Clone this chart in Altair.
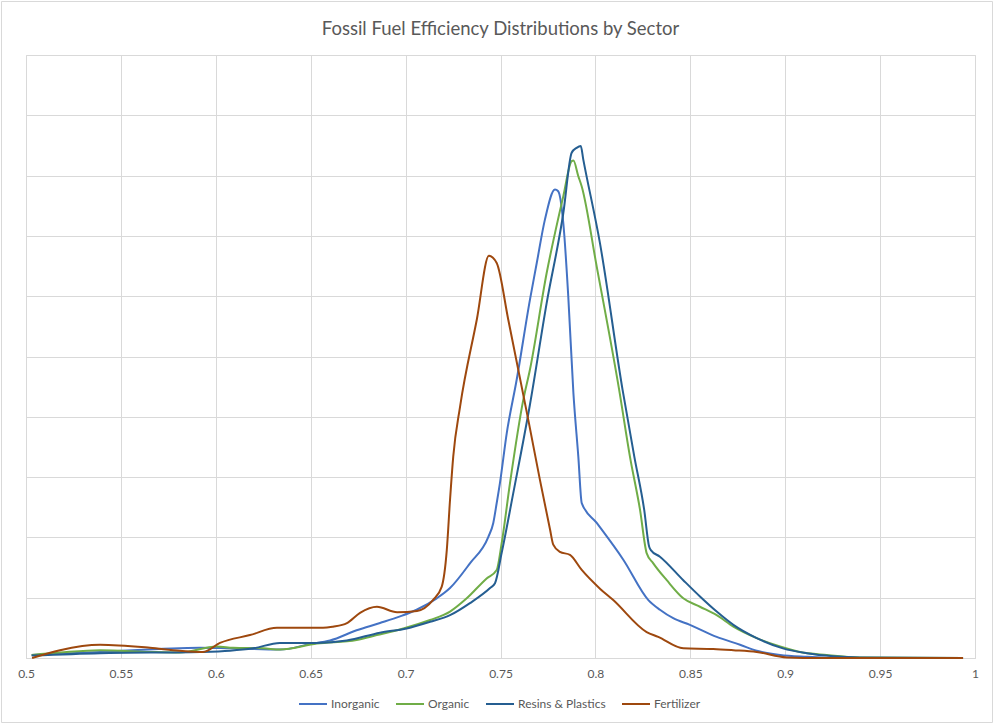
import altair as alt
import pandas as pd

# ---- data (x = efficiency, y = relative density, grid units) ----
inorganic_x = [0.503, 0.539, 0.5917, 0.6075, 0.6338, 0.6496, 0.6602, 0.6742, 0.6865, 0.6971,
               0.7058, 0.7164, 0.7234, 0.7339, 0.7436, 0.7462, 0.748, 0.7497, 0.7533, 0.7585,
               0.7655, 0.7691, 0.7734, 0.7787, 0.7804, 0.7831, 0.7857, 0.7884, 0.791, 0.7928,
               0.8007, 0.8147, 0.8279, 0.834, 0.841, 0.8498, 0.8639, 0.8762, 0.885, 0.8973,
               0.9113, 0.9289, 0.9937]
inorganic_y = [0.05, 0.10, 0.17, 0.16, 0.14, 0.23, 0.29, 0.46, 0.58, 0.69,
               0.80, 0.99, 1.16, 1.57, 2.01, 2.24, 2.57, 2.90, 3.73, 4.61,
               5.94, 6.55, 7.27, 7.77, 7.74, 7.21, 6.00, 4.40, 3.34, 2.57,
               2.24, 1.63, 0.96, 0.80, 0.66, 0.55, 0.35, 0.22, 0.12, 0.05,
               0.02, 0.0, 0.0]

organic_x = [0.503, 0.518, 0.539, 0.5653, 0.5811, 0.6005, 0.6091, 0.625, 0.6338, 0.6532,
             0.6742, 0.6848, 0.6988, 0.7129, 0.7234, 0.7322, 0.7427, 0.748, 0.7506, 0.755,
             0.762, 0.7655, 0.7743, 0.7831, 0.7875, 0.7884, 0.791, 0.7928, 0.8007, 0.8125,
             0.8182, 0.8235, 0.827, 0.8305, 0.8376, 0.8463, 0.8551, 0.8639, 0.8727, 0.885,
             0.8973, 0.9078, 0.9219, 0.9394, 0.9937]
organic_y = [0.05, 0.09, 0.13, 0.10, 0.09, 0.19, 0.17, 0.16, 0.14, 0.24,
             0.30, 0.38, 0.49, 0.63, 0.77, 0.99, 1.32, 1.46, 1.90, 2.90,
             4.28, 4.78, 6.38, 7.66, 8.24, 8.25, 7.99, 7.82, 6.49, 4.45,
             3.34, 2.46, 1.74, 1.57, 1.29, 0.99, 0.85, 0.71, 0.52, 0.33,
             0.19, 0.10, 0.05, 0.01, 0.0]

resins_x = [0.503, 0.539, 0.5917, 0.6075, 0.6196, 0.6338, 0.6532, 0.669, 0.6865, 0.7006,
            0.7129, 0.7234, 0.7339, 0.7445, 0.7471, 0.7506, 0.7567, 0.7655, 0.7743, 0.7831,
            0.7875, 0.7901, 0.7923, 0.7936, 0.8024, 0.8143, 0.8205, 0.8257, 0.8283, 0.8292,
            0.834, 0.8463, 0.8551, 0.8639, 0.8727, 0.885, 0.8988, 0.9113, 0.9254, 0.9394,
            0.9937]
resins_y = [0.04, 0.08, 0.10, 0.12, 0.16, 0.25, 0.25, 0.29, 0.42, 0.49,
            0.60, 0.71, 0.91, 1.16, 1.24, 1.74, 2.73, 4.20, 5.88, 7.38,
            8.38, 8.46, 8.49, 8.27, 6.88, 4.45, 3.34, 2.46, 1.85, 1.79,
            1.68, 1.29, 1.02, 0.77, 0.55, 0.33, 0.16, 0.08, 0.03, 0.01,
            0.0]

fertilizer_x = [0.5032, 0.5179, 0.539, 0.5653, 0.5811, 0.5933, 0.6022, 0.618, 0.6322, 0.6565,
                0.6617, 0.6691, 0.676, 0.6849, 0.6955, 0.706, 0.7144, 0.719, 0.7217, 0.7234,
                0.7251, 0.7287, 0.7375, 0.7439, 0.748, 0.7541, 0.7647, 0.7708, 0.7761, 0.7778,
                0.7813, 0.7866, 0.7928, 0.8024, 0.8094, 0.827, 0.8331, 0.8463, 0.8621, 0.8727,
                0.885, 0.9008, 0.918, 0.9937]
fertilizer_y = [0.0, 0.13, 0.22, 0.17, 0.12, 0.10, 0.25, 0.38, 0.50, 0.50,
                0.52, 0.58, 0.75, 0.85, 0.76, 0.78, 0.96, 1.18, 1.79, 2.62,
                3.34, 4.17, 5.61, 6.67, 6.55, 5.61, 3.94, 2.95, 2.13, 1.88,
                1.76, 1.71, 1.46, 1.15, 0.96, 0.43, 0.35, 0.16, 0.15, 0.13,
                0.10, 0.01, 0.0, 0.0]

sectors = ["Inorganic", "Organic", "Resins & Plastics", "Fertilizer"]
colors = ["#4472C4", "#70AD47", "#255E91", "#9E480E"]
x_ticks = [0.5, 0.55, 0.6, 0.65, 0.7, 0.75, 0.8, 0.85, 0.9, 0.95, 1.0]
y_grid = [0, 1, 2, 3, 4, 5, 6, 7, 8, 9, 10]

series = {
    "Inorganic": (inorganic_x, inorganic_y),
    "Organic": (organic_x, organic_y),
    "Resins & Plastics": (resins_x, resins_y),
    "Fertilizer": (fertilizer_x, fertilizer_y),
}
rows = []
for i, name in enumerate(sectors):
    xs, ys = series[name]
    for j, (xv, yv) in enumerate(zip(xs, ys)):
        rows.append({"sector": name, "order": i, "idx": j, "eff": xv, "dens": yv})
df = pd.DataFrame(rows)

FONT = "Lato"
GRID = "#d9d9d9"
TXT = "#595959"

lines = alt.Chart(df).mark_line(interpolate="monotone", strokeWidth=2).encode(
    x=alt.X("eff:Q",
            scale=alt.Scale(domain=[0.5, 1.0], nice=False, zero=False),
            axis=alt.Axis(values=x_ticks, format=".2~f", title=None, grid=True,
                          gridColor=GRID, domainColor=GRID, ticks=False,
                          labelColor=TXT, labelFontSize=12, labelFont=FONT,
                          labelPadding=10, labelOverlap=False, labelFlush=False)),
    y=alt.Y("dens:Q",
            scale=alt.Scale(domain=[0, 10], nice=False, zero=True),
            axis=alt.Axis(values=y_grid, title=None, labels=False, ticks=False,
                          domain=False, grid=True, gridColor=GRID)),
    color=alt.Color("sector:N",
                    scale=alt.Scale(domain=sectors, range=colors),
                    legend=alt.Legend(title=None, orient="none", direction="horizontal",
                                      legendX=272, legendY=634,
                                      symbolType="stroke", symbolSize=784,
                                      symbolStrokeWidth=2, labelFont=FONT,
                                      labelFontSize=12, labelColor=TXT,
                                      labelOffset=3, columnPadding=12)),
    detail="sector:N",
    order="idx:Q",
)

frame = alt.Chart(alt.Data(values=[{"a": 1}])).mark_rect(
    fillOpacity=0, stroke=GRID, strokeWidth=1
).encode(
    x=alt.value(-24.5), x2=alt.value(966.5), y=alt.value(-53.5), y2=alt.value(667.5)
)

# the frame rect raises the group bounds to y=-54, so the title offset is measured from there
chart = alt.layer(frame, lines).properties(
    width=949,
    height=603,
    title=alt.TitleParams("Fossil Fuel Efficiency Distributions by Sector",
                          font=FONT, fontSize=18.5, fontWeight="normal",
                          color=TXT, offset=-37, anchor="middle", frame="group"),
    autosize=alt.AutoSizeParams(type="none"),
    padding={"left": 26, "top": 55, "right": 19, "bottom": 69},
).configure_view(stroke=None).configure(background="white")

chart.save("out.html", embed_options={"renderer": "svg", "actions": False})
